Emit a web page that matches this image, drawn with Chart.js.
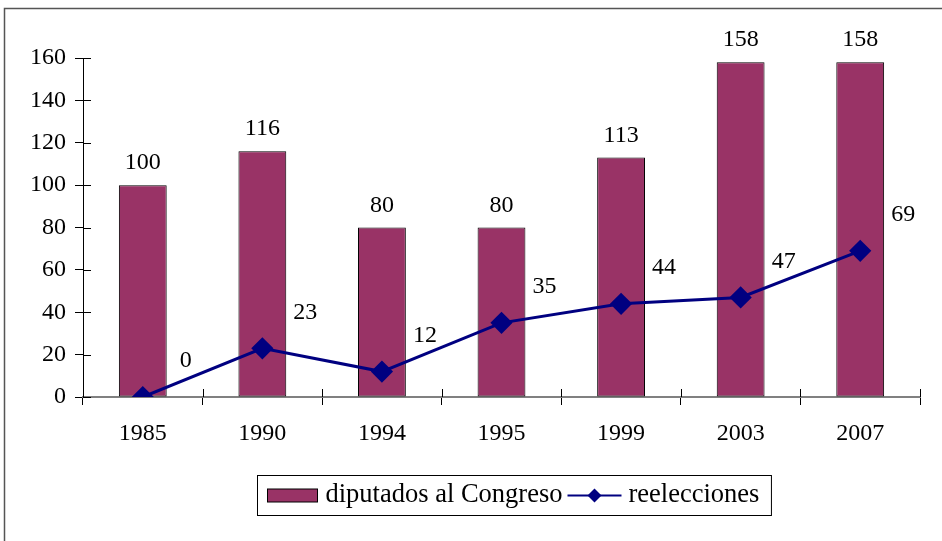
<!DOCTYPE html>
<html><head><meta charset="utf-8">
<script src="https://cdn.jsdelivr.net/npm/chart.js@4.4.1/dist/chart.umd.min.js"></script>
<style>html,body{margin:0;padding:0;background:#fff}#wrap{width:942px;height:541px}</style>
</head><body><div id="wrap"><canvas id="c" width="942" height="541"></canvas></div>
<script>
const categories = ['1985','1990','1994','1995','1999','2003','2007'];
const diputados = [100,116,80,80,113,158,158];
const reelecciones = [0,23,12,35,44,47,69];
const yMin = 0, yMax = 160, yStep = 20;
const seriesNames = ['diputados al Congreso','reelecciones'];
const FONT = '"Liberation Serif", "Times New Roman", serif';
const BAR_COLOR = '#993366';
const LINE_COLOR = '#000080';

const framePlugin = {
  id: 'frame',
  beforeDraw(chart) {
    const ctx = chart.ctx;
    ctx.save();
    ctx.fillStyle = '#fff';
    ctx.fillRect(0, 0, chart.width, chart.height);
    ctx.strokeStyle = '#555';
    ctx.lineWidth = 1.5;
    ctx.beginPath();
    ctx.moveTo(4.5, chart.height);
    ctx.lineTo(4.5, 8.5);
    ctx.lineTo(chart.width, 8.5);
    ctx.stroke();
    ctx.restore();
  },
  afterDraw(chart) {
    const ctx = chart.ctx;
    const a = chart.chartArea;
    const ys = chart.scales.y;
    ctx.save();
    ctx.strokeStyle = '#000';
    ctx.lineWidth = 1;
    ys.ticks.forEach(t => {
      const py = Math.round(ys.getPixelForValue(t.value)) + 0.5;
      ctx.beginPath(); ctx.moveTo(a.left, py); ctx.lineTo(a.left + 8, py); ctx.stroke();
    });
    const n = categories.length;
    for (let i = 0; i <= n; i++) {
      const px = Math.round(a.left + i * (a.right - a.left) / n) + 0.5;
      ctx.beginPath(); ctx.moveTo(px, a.bottom - 8); ctx.lineTo(px, a.bottom); ctx.stroke();
    }
    // legend
    ctx.font = '26.5px ' + FONT;
    ctx.textBaseline = 'middle';
    ctx.fillStyle = '#000';
    const w1 = ctx.measureText(seriesNames[0]).width;
    const w2 = ctx.measureText(seriesNames[1]).width;
    const padL = 10, sw1 = 50, g1 = 8, g2 = 5, sw2 = 54, g3 = 7, padR = 12;
    const total = padL + sw1 + g1 + w1 + g2 + sw2 + g3 + w2 + padR;
    const cx = 513.5;
    const bx = Math.round(cx - total / 2) + 0.5;
    const by = 475.5, bh = 40;
    const midY = by + bh / 2;
    ctx.strokeStyle = '#000';
    ctx.lineWidth = 1;
    ctx.strokeRect(bx, by, total, bh);
    let x = bx + padL;
    ctx.fillStyle = BAR_COLOR;
    ctx.fillRect(x, midY - 6.5, sw1, 13);
    ctx.strokeRect(x, midY - 6.5, sw1, 13);
    x += sw1 + g1;
    ctx.fillStyle = '#000';
    ctx.fillText(seriesNames[0], x, midY);
    x += w1 + g2;
    ctx.strokeStyle = LINE_COLOR;
    ctx.lineWidth = 2;
    ctx.beginPath(); ctx.moveTo(x, midY); ctx.lineTo(x + sw2, midY); ctx.stroke();
    ctx.fillStyle = LINE_COLOR;
    const dc = x + sw2 / 2, r = 7;
    ctx.beginPath(); ctx.moveTo(dc, midY - r); ctx.lineTo(dc + r, midY); ctx.lineTo(dc, midY + r); ctx.lineTo(dc - r, midY); ctx.closePath(); ctx.fill();
    x += sw2 + g3;
    ctx.fillStyle = '#000';
    ctx.fillText(seriesNames[1], x, midY);
    ctx.restore();
  },
  afterDatasetsDraw(chart) {
    const ctx = chart.ctx;
    ctx.save();
    ctx.font = '24px ' + FONT;
    ctx.fillStyle = '#000';
    ctx.textAlign = 'center';
    const barMeta = chart.getDatasetMeta(1);
    barMeta.data.forEach((el, i) => {
      ctx.textBaseline = 'alphabetic';
      ctx.fillText(String(diputados[i]), el.x, el.y - 16);
    });
    const lineMeta = chart.getDatasetMeta(0);
    lineMeta.data.forEach((el, i) => {
      ctx.textBaseline = 'middle';
      ctx.fillText(String(reelecciones[i]), el.x + 43, el.y - 36);
    });
    ctx.restore();
  }
};

new Chart(document.getElementById('c'), {
  data: {
    labels: categories,
    datasets: [
      {
        type: 'line', label: seriesNames[1], data: reelecciones, order: 0,
        borderColor: LINE_COLOR, backgroundColor: LINE_COLOR, borderWidth: 3,
        pointStyle: 'rectRot', pointRadius: 9, pointHoverRadius: 9,
        pointBackgroundColor: LINE_COLOR, pointBorderColor: LINE_COLOR, tension: 0
      },
      {
        type: 'bar', label: seriesNames[0], data: diputados, order: 1,
        backgroundColor: BAR_COLOR, borderColor: '#000', borderWidth: 1,
        borderSkipped: false, categoryPercentage: 1, barPercentage: 0.4
      }
    ]
  },
  options: {
    responsive: false, animation: false, devicePixelRatio: 1,
    layout: { padding: { top: 58, right: 22, left: 0, bottom: 0 } },
    plugins: { legend: { display: false }, tooltip: { enabled: false } },
    scales: {
      x: {
        type: 'category', offset: true,
        grid: { offset: true, drawOnChartArea: false, tickLength: 8, color: '#000', lineWidth: 1 },
        border: { color: '#808080', width: 2 },
        ticks: { font: { family: FONT, size: 24 }, color: '#000', padding: 14, maxRotation: 0 },
        afterFit(s) { s.height = 144; }
      },
      y: {
        min: yMin, max: yMax,
        grid: { drawOnChartArea: false, tickLength: 8, color: '#000', lineWidth: 1 },
        border: { color: '#000', width: 1 },
        ticks: { stepSize: yStep, font: { family: FONT, size: 24 }, color: '#000', padding: 9 },
        afterFit(s) { s.width = 83; }
      }
    }
  },
  plugins: [framePlugin]
});
</script></body></html>
